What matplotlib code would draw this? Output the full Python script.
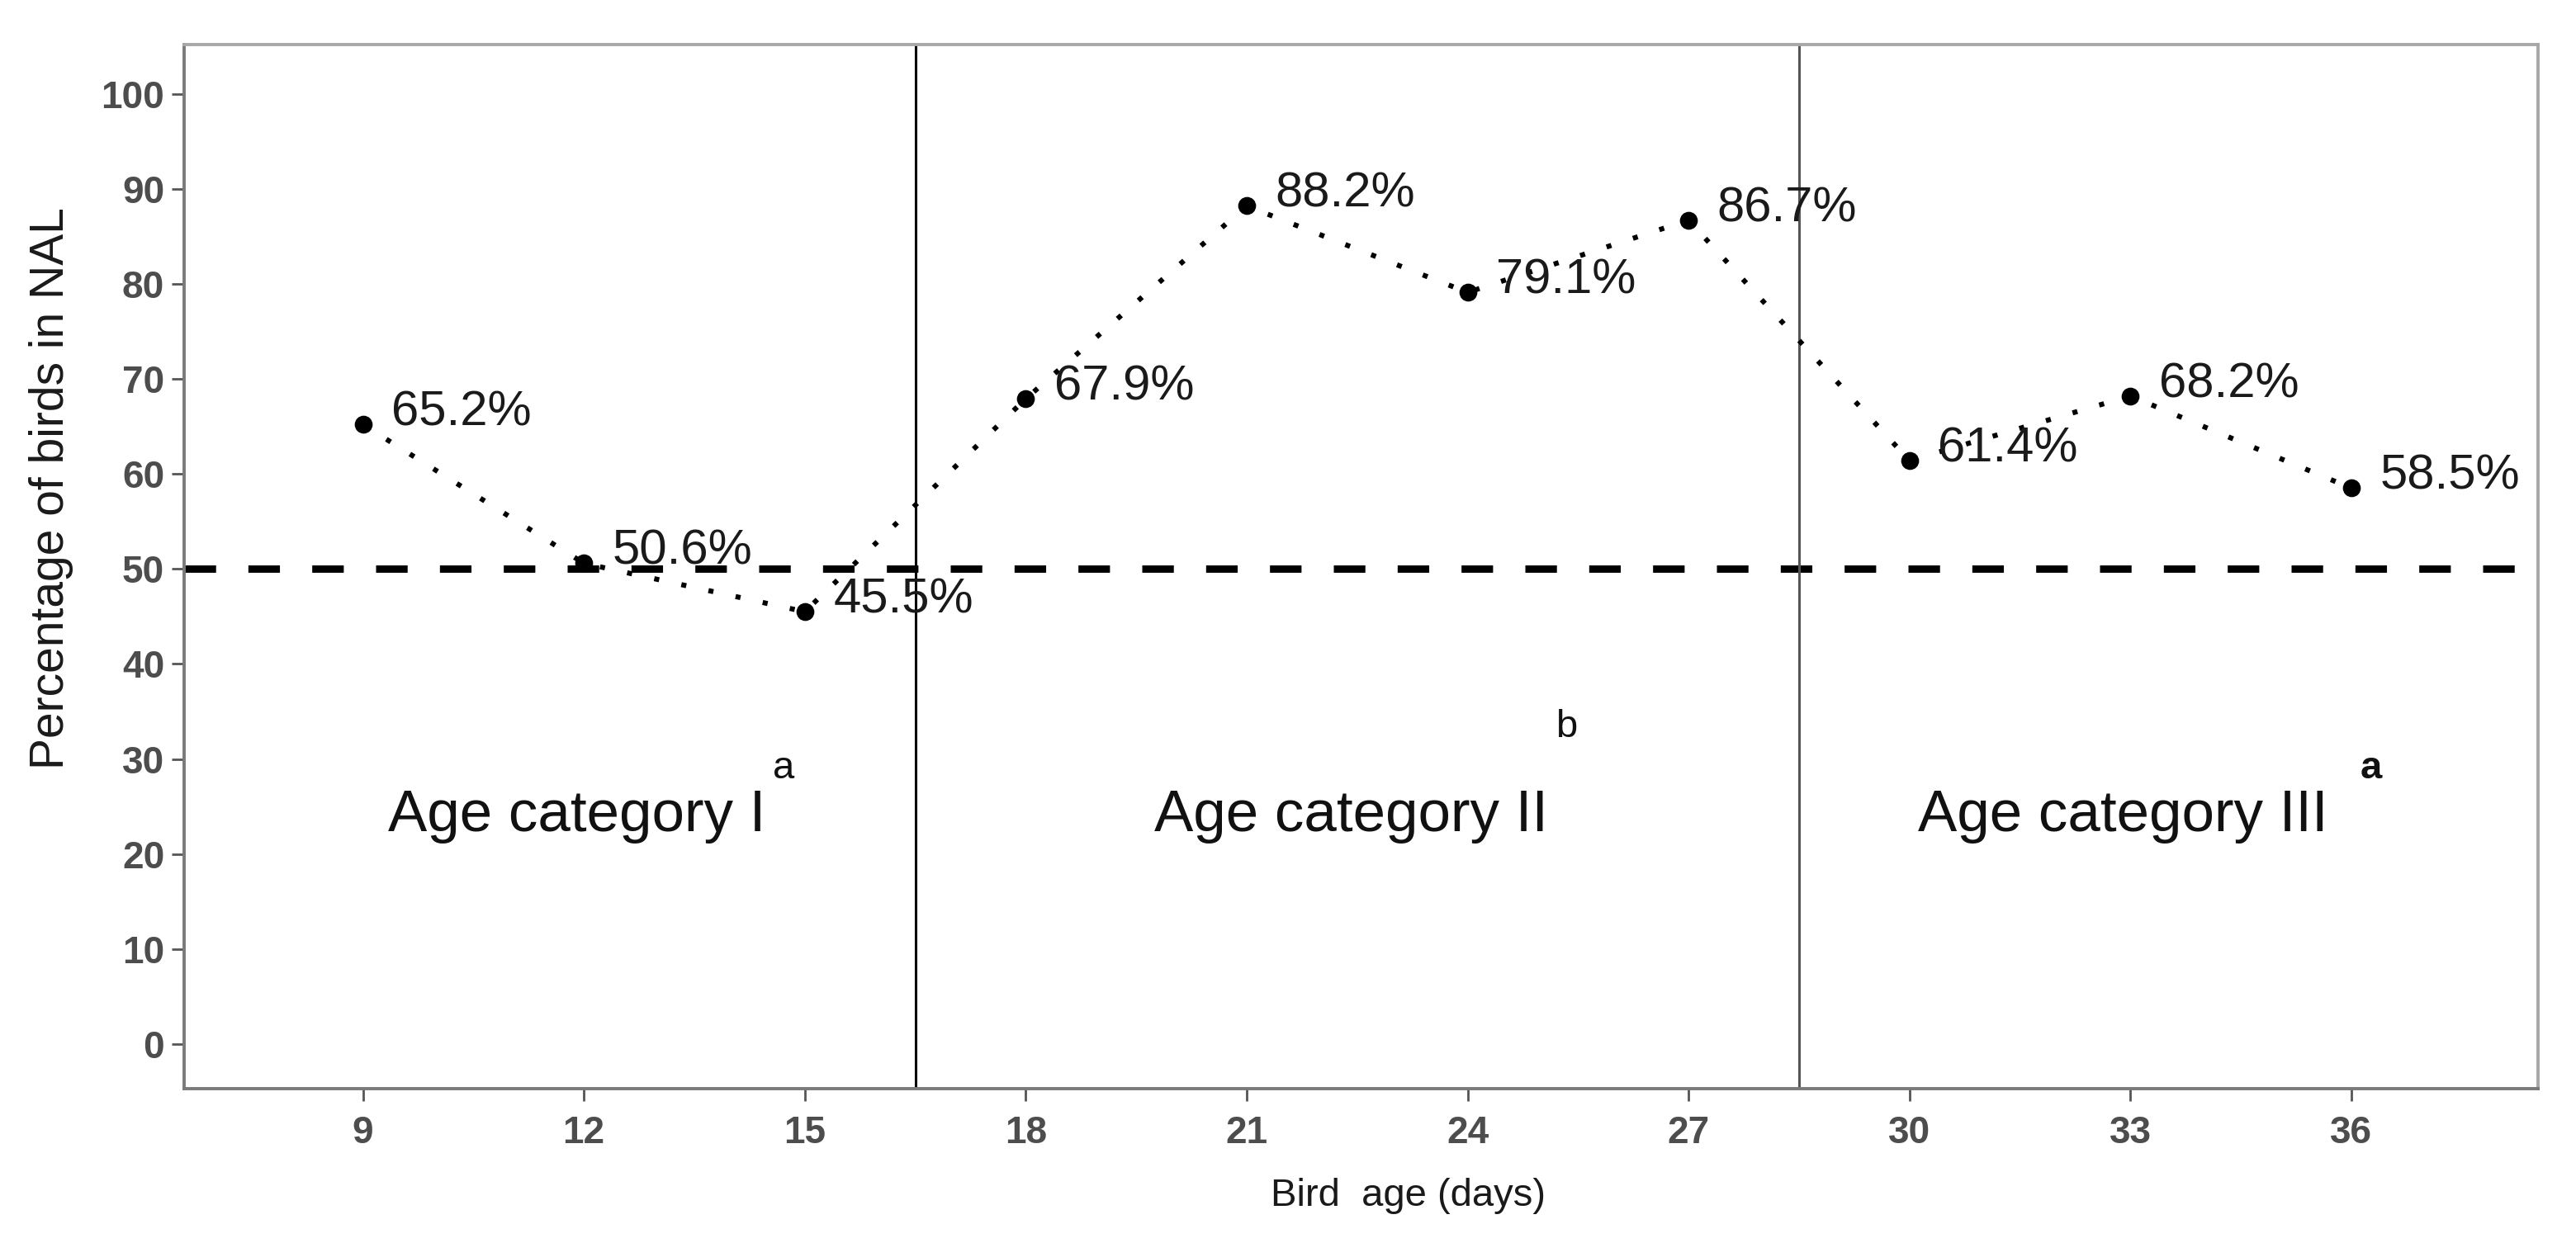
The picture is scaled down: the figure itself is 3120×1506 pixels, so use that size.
import matplotlib
matplotlib.use('Agg')
import matplotlib.pyplot as plt

# bird age (days) and percentage of birds in NAL
ages = [9, 12, 15, 18, 21, 24, 27, 30, 33, 36]
pct = [65.2, 50.6, 45.5, 67.9, 88.2, 79.1, 86.7, 61.4, 68.2, 58.5]
pct_labels = ['65.2%', '50.6%', '45.5%', '67.9%', '88.2%', '79.1%', '86.7%', '61.4%', '68.2%', '58.5%']

# age category borders and text
borders = [16.5, 28.5]
cat_names = ['Age category I', 'Age category II', 'Age category III']
cat_sup = ['a', 'b', 'a']
cat_x = [9.34, 19.75, 30.12]
cat_y = 22.4
ref_level = 50

plt.rcParams['font.family'] = ['Liberation Sans', 'DejaVu Sans']

fig = plt.figure(figsize=(15.6, 7.53), dpi=200)
ax = fig.add_axes([0.0714, 0.1241, 0.914, 0.8402])

ax.plot(ages, pct, color='black', linestyle=(0, (1, 4.5)), linewidth=2.2,
        marker='o', markersize=6.8, markerfacecolor='black', markeredgecolor='black', zorder=3)

for x, y, s in zip(ages, pct, pct_labels):
    ax.annotate(s, (x, y), xytext=(12.5, -0.5), textcoords='offset points',
                ha='left', va='baseline', fontsize=21.5, color='#1a1a1a', zorder=4)

ax.axhline(ref_level, color='black', linewidth=3.2, linestyle=(0, (4.3, 4.4)), zorder=2)
ax.axvline(borders[0], color='black', linewidth=1.1, zorder=2)
ax.axvline(borders[1], color='#555555', linewidth=1.1, zorder=2)

sup_off = [(3, 1), (3, 19), (14, 1)]
sup_w = ['normal', 'normal', 'bold']
for name, sup, x, off, w in zip(cat_names, cat_sup, cat_x, sup_off, sup_w):
    t = ax.text(x, cat_y, name, fontsize=25.5, color='#111111', ha='left', va='baseline')
    ax.annotate(sup, xy=(1, 1), xycoords=t, xytext=off, textcoords='offset points',
                ha='left', va='bottom', fontsize=17, fontweight=w, color='#111111')

ax.set_xlim(6.57, 38.54)
ax.set_ylim(-4.7, 105.2)
ax.set_xticks(ages)
ax.set_yticks(range(0, 101, 10))

for side in ['left', 'bottom']:
    ax.spines[side].set_color('#7a7a7a')
    ax.spines[side].set_linewidth(1.4)
for side in ['top', 'right']:
    ax.spines[side].set_color('#a8a8a8')
    ax.spines[side].set_linewidth(1.4)

ax.tick_params(direction='out', length=5.5, width=1.0, color='#555555',
               labelsize=16.5, labelcolor='#4d4d4d', pad=3)
for lab in ax.get_xticklabels() + ax.get_yticklabels():
    lab.set_fontweight('bold')
ax.tick_params(axis='x', pad=6)

ax.set_xlabel('Bird  age (days)', fontsize=17, color='#1a1a1a')
ax.set_ylabel('Percentage of birds in NAL', fontsize=20.5, color='#1a1a1a')
ax.xaxis.set_label_coords(0.52, -0.085)
ax.yaxis.set_label_coords(-0.047, 0.575)

fig.savefig('out.png', dpi=200, facecolor='white')
